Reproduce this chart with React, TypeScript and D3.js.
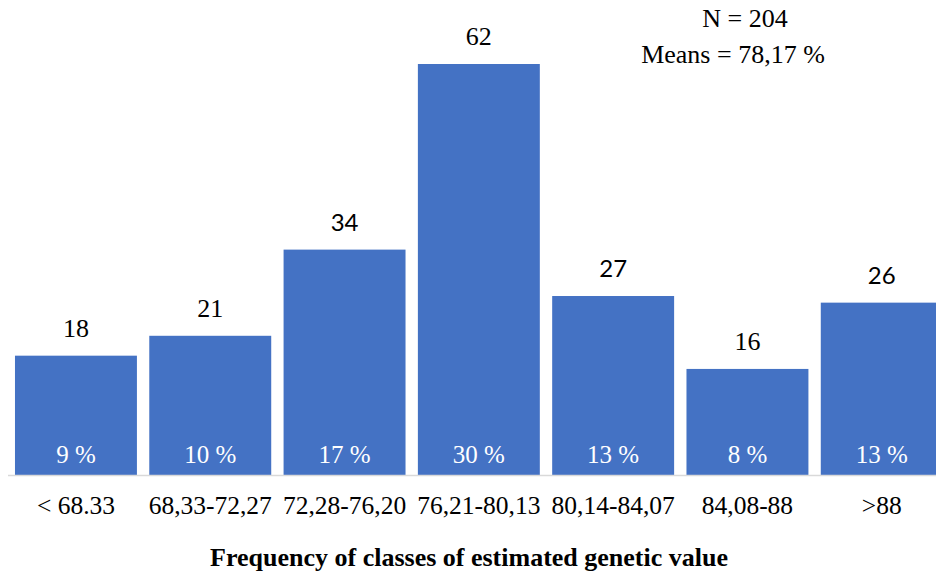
import React from "react";
import * as d3 from "d3";

const categories = ["< 68.33", "68,33-72,27", "72,28-76,20", "76,21-80,13", "80,14-84,07", "84,08-88", ">88"];
const counts = [18, 21, 34, 62, 27, 16, 26];
const percents = ["9 %", "10 %", "17 %", "30 %", "13 %", "8 %", "13 %"];
const annotationLines = ["N = 204", "Means = 78,17 %"];
const xTitle = "Frequency of classes of estimated genetic value";

const W = 936;
const H = 577;
const baseY = 475;
const serif = "Liberation Serif";
const sans = "Lato";
// value labels that appear in a sans-serif face in the reference
const sansLabelIdx = [2, 4, 6];

export default function App() {
  const x = d3.scaleBand<string>().domain(categories).range([8.8, 8.8 + 7 * 134.3]).paddingInner(0.092).paddingOuter(0.046);
  const y = d3.scaleLinear().domain([0, 62]).range([baseY, 64]);
  return (
    <svg width={W} height={H} style={{ position: "absolute", left: 0, top: 0, display: "block", fontFamily: serif }}>
      <rect width={W} height={H} fill="#fff" />
      {categories.map((c, i) => {
        const bx = x(c)!;
        const bw = x.bandwidth();
        const cx = bx + bw / 2;
        const top = y(counts[i]);
        const isSans = sansLabelIdx.includes(i);
        return (
          <g key={c}>
            <rect x={bx} y={top} width={bw} height={baseY - top} fill="#4472C4" />
            <text x={cx} y={top - 19} textAnchor="middle" fontSize={isSans ? 24 : 26} style={{ fontFamily: isSans ? sans : serif }} fill="#000">{counts[i]}</text>
            <text x={cx} y={463} textAnchor="middle" fontSize={25} fill="#fff">{percents[i]}</text>
            <text x={cx} y={514} textAnchor="middle" fontSize={25.5} fill="#000">{c}</text>
          </g>
        );
      })}
      <line x1={8} x2={W} y1={baseY + 0.5} y2={baseY + 0.5} stroke="#d9d9d9" strokeWidth={1.5} />
      <text x={745} y={27} textAnchor="middle" fontSize={26} fill="#000">{annotationLines[0]}</text>
      <text x={733} y={63} textAnchor="middle" fontSize={26} fill="#000">{annotationLines[1]}</text>
      <text x={469} y={566} textAnchor="middle" fontSize={26} fontWeight="bold" fill="#000">{xTitle}</text>
    </svg>
  );
}
